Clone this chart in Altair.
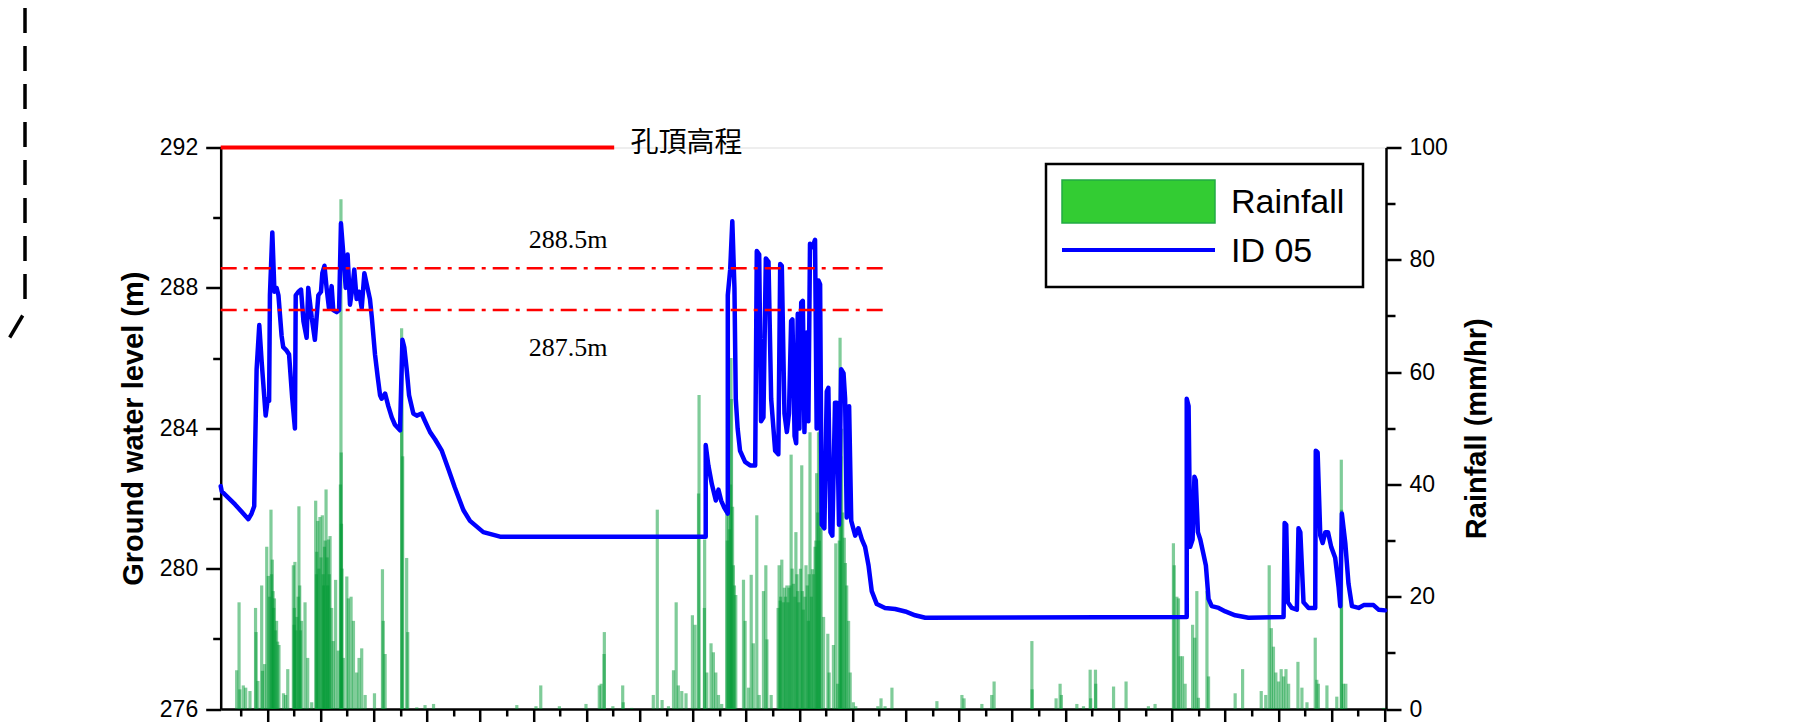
import altair as alt
import pandas as pd

# ---------------- data ----------------
# time axis: in units of one x-tick interval (axis starts at 0)
LEVEL_T = [0.00, 0.04, 0.54, 1.04, 1.16, 1.26, 1.29, 1.35, 1.45, 1.54, 1.69, 1.77, 1.82, 1.85, 1.94,
           2.02, 2.10, 2.17, 2.29, 2.35, 2.48, 2.57, 2.69, 2.79, 2.82, 2.92, 3.02, 3.11, 3.23, 3.29,
           3.42, 3.54, 3.67, 3.77, 3.82, 3.90, 3.98, 4.07, 4.17, 4.23, 4.36, 4.45, 4.52, 4.61, 4.70,
           4.77, 4.86, 4.95, 5.02, 5.11, 5.20, 5.30, 5.40, 5.49, 5.61, 5.68, 5.80, 5.90, 5.99, 6.05,
           6.18, 6.30, 6.43, 6.55, 6.74, 6.83, 6.90, 6.99, 7.08, 7.24, 7.37, 7.55, 7.68, 7.87, 8.06,
           8.31, 8.56, 8.80, 9.12, 9.37, 9.87, 10.50, 18.23, 18.23, 18.33, 18.46, 18.61, 18.71, 18.81,
           18.93, 19.06, 19.06, 19.15, 19.23, 19.31, 19.36, 19.43, 19.52, 19.71, 19.90, 20.09, 20.15,
           20.24, 20.31, 20.40, 20.49, 20.59, 20.69, 20.84, 20.96, 21.03, 21.09, 21.19, 21.28, 21.36,
           21.44, 21.49, 21.57, 21.63, 21.69, 21.75, 21.82, 21.88, 21.94, 22.03, 22.09, 22.15, 22.24,
           22.34, 22.40, 22.47, 22.53, 22.59, 22.69, 22.78, 22.84, 22.92, 22.99, 23.09, 23.16, 23.24,
           23.32, 23.41, 23.47, 23.53, 23.62, 23.70, 23.85, 23.97, 24.10, 24.22, 24.35, 24.47, 24.66,
           24.97, 25.35, 25.73, 26.10, 26.48, 36.31, 36.31, 36.38, 36.44, 36.53, 36.60, 36.65, 36.73,
           36.82, 36.94, 37.03, 37.13, 37.25, 37.51, 37.76, 38.13, 38.63, 39.95, 39.99, 40.05, 40.11,
           40.26, 40.45, 40.51, 40.58, 40.70, 40.89, 41.14, 41.16, 41.23, 41.33, 41.42, 41.52, 41.62,
           41.74, 41.89, 42.02, 42.08, 42.14, 42.27, 42.39, 42.52, 42.77, 42.96, 43.33, 43.52, 43.77]
LEVEL_V = [282.35, 282.20, 281.83, 281.41, 281.57, 281.78, 283.26, 285.68, 286.94, 285.89, 284.36, 284.84,
           284.78, 287.79, 289.58, 287.89, 288.00, 287.79, 286.63, 286.31, 286.21, 286.10, 284.84, 283.99,
           287.79, 287.89, 287.95, 287.05, 286.58, 288.00, 287.16, 286.52, 287.79, 287.89, 288.42, 288.63,
           288.00, 287.42, 288.05, 287.37, 287.31, 287.37, 289.84, 288.95, 288.00, 288.95, 287.52, 288.00,
           288.52, 287.68, 287.89, 287.42, 288.42, 288.10, 287.68, 287.16, 286.10, 285.47, 284.94, 284.84,
           284.99, 284.63, 284.31, 284.10, 283.94, 286.52, 286.31, 285.68, 284.94, 284.42, 284.36, 284.42,
           284.20, 283.89, 283.68, 283.36, 282.83, 282.31, 281.67, 281.36, 281.04, 280.91, 280.91, 283.52,
           282.94, 282.41, 281.94, 282.25, 281.94, 281.73, 281.57, 287.79, 288.52, 289.90, 288.00, 284.84,
           283.99, 283.36, 283.04, 282.94, 282.94, 289.05, 288.95, 284.20, 284.31, 288.84, 288.74, 284.84,
           283.36, 283.26, 288.68, 288.63, 284.42, 283.89, 284.42, 287.05, 287.10, 283.78, 283.57, 287.26,
           283.99, 287.58, 287.63, 283.89, 286.73, 284.20, 289.26, 289.16, 289.37, 283.99, 288.21, 288.10,
           281.25, 281.15, 285.05, 285.15, 281.04, 280.94, 284.73, 284.73, 281.25, 285.68, 285.57, 284.84,
           281.46, 284.63, 281.36, 280.94, 281.15, 280.83, 280.62, 280.09, 279.36, 278.99, 278.88, 278.85,
           278.78, 278.67, 278.60, 278.62, 284.84, 284.63, 280.62, 280.83, 282.62, 282.52, 281.04, 280.83,
           280.41, 280.09, 279.14, 278.93, 278.88, 278.78, 278.67, 278.60, 278.62, 281.30, 281.25, 279.04,
           278.88, 278.83, 281.15, 281.04, 279.04, 278.88, 278.88, 283.36, 283.31, 280.94, 280.73, 281.04,
           281.04, 280.62, 280.31, 279.46, 278.93, 281.57, 280.73, 279.57, 278.93, 278.88, 278.96, 278.96,
           278.83, 278.81]

RAIN_T = [0.60, 0.69, 0.72, 0.85, 0.94, 1.10, 1.31, 1.33, 1.40, 1.54, 1.57, 1.65, 1.73, 1.79, 1.89, 1.94,
          1.97, 2.02, 2.10, 2.19, 2.36, 2.44, 2.52, 2.73, 2.76, 2.79, 2.86, 2.94, 2.97, 3.04, 3.17, 3.27,
          3.42, 3.57, 3.60, 3.65, 3.73, 3.82, 3.85, 3.90, 3.96, 4.00, 4.05, 4.11, 4.17, 4.23, 4.32, 4.42,
          4.52, 4.53, 4.54, 4.61, 4.74, 4.80, 4.90, 4.99, 5.11, 5.20, 5.30, 5.43, 5.78, 6.08, 6.11, 6.18,
          6.80, 6.81, 6.84, 6.99, 7.03, 7.37, 7.68, 8.00,
          1.84, 1.91, 1.99, 2.06, 2.14, 2.77, 2.83, 2.91, 3.00, 3.61, 3.69, 3.77, 3.87, 3.93, 4.02, 4.08,
          4.50, 4.56,
          11.13, 11.85, 12.03, 12.73, 13.73, 14.23, 14.30, 14.41, 14.42, 14.74, 15.11, 15.13, 15.45, 16.26,
          16.41, 16.59, 16.83, 17.02, 17.12, 17.20, 17.33, 17.49, 17.73, 17.83, 17.96, 17.98, 18.18, 18.19,
          18.27, 18.43, 18.52, 18.61, 18.71, 18.83, 19.02, 19.08, 19.18, 19.20, 19.27, 19.36, 19.65, 19.71,
          19.84, 19.94, 20.02, 20.15, 20.24, 20.40, 20.49, 20.53, 20.69, 20.99, 21.03, 21.09, 21.19, 21.28,
          21.36, 21.44, 21.53, 21.62, 21.69, 21.84, 21.90, 22.00, 22.09, 22.15, 22.24, 22.34, 22.40, 22.47,
          22.53, 22.57, 22.66, 22.82, 22.87, 23.03, 23.12, 23.19, 23.28, 23.34, 23.44, 23.53, 23.60, 23.66,
          23.78, 23.87, 24.70, 24.82, 24.97, 25.23,
          20.95, 21.05, 21.15, 21.23, 21.32, 21.40, 21.48, 21.58, 21.66, 21.73, 21.79, 21.86, 21.96, 22.05,
          22.12, 22.20, 22.28, 22.37, 22.44, 22.50, 19.04, 19.12, 19.16, 19.24, 19.31, 23.25, 23.31, 23.38,
          23.48,
          26.92, 27.86, 27.94, 28.61, 28.98, 29.07, 30.49, 30.50, 31.40, 31.55, 31.60, 32.18, 32.43, 32.68,
          32.70, 32.88, 32.89, 33.56, 34.03, 34.87, 35.12, 35.81, 35.84, 35.94, 36.00, 36.06, 36.15, 36.25,
          36.53, 36.61, 36.69, 36.75, 37.07, 37.13, 38.13, 38.41, 39.11, 39.28, 39.41, 39.49, 39.57, 39.66,
          39.76, 39.86, 39.95, 40.04, 40.14, 40.49, 40.64, 40.83, 41.14, 41.20, 41.26, 41.58, 41.95, 42.12,
          42.13, 42.20, 42.29, 43.71]
RAIN_V = [6.9, 19.0, 3.5, 4.2, 3.8, 3.2, 18.0, 13.7, 5.0, 22.0, 6.8, 8.0, 28.9, 23.7, 35.5, 26.6,
          21.0, 19.7, 15.7, 11.4, 2.8, 2.5, 7.1, 25.6, 15.0, 26.2, 16.4, 36.1, 22.0, 15.7, 19.0, 9.1,
          1.2, 37.1, 24.0, 33.5, 34.2, 34.5, 24.0, 28.9, 39.1, 27.0, 30.2, 30.8, 18.0, 12.1, 23.0, 10.4,
          90.8, 45.7, 33.0, 9.1, 23.6, 19.7, 20.0, 15.7, 6.5, 9.1, 10.8, 2.5, 2.8, 24.9, 15.7, 9.8,
          67.8, 61.8, 45.0, 26.9, 13.7, 0.3, 0.7, 0.9,
          20.0, 24.0, 18.0, 14.0, 12.0, 18.0, 14.0, 20.0, 14.0, 28.0, 25.0, 27.0, 22.0, 30.0, 22.0, 24.0,
          40.0, 25.0,
          0.7, 0.5, 4.2, 0.5, 0.9, 4.2, 4.5, 9.8, 13.7, 0.5, 4.2, 1.2, 0.2, 2.5,
          35.5, 1.6, 0.5, 6.9, 19.0, 4.2, 3.2, 2.8, 16.7, 15.0, 38.4, 55.9, 18.0, 30.2,
          6.5, 11.7, 10.1, 6.5, 2.5, 0.9, 34.8, 34.8, 62.5, 55.2, 25.6, 20.3, 23.0, 15.7,
          3.8, 23.9, 11.7, 34.5, 2.5, 21.0, 25.6, 12.4, 2.5, 25.6, 19.3, 26.6, 21.6, 22.0,
          21.6, 45.3, 22.3, 31.5, 21.0, 43.4, 17.7, 25.6, 15.7, 49.3, 24.9, 28.9, 42.0, 49.3,
          60.5, 32.2, 16.4, 13.4, 6.5, 11.4, 29.5, 4.5, 66.1, 49.9, 30.5, 22.0, 15.7, 6.5,
          1.2, 0.5, 0.5, 1.9, 0.5, 3.8,
          18.0, 20.0, 19.0, 20.0, 19.0, 22.0, 25.0, 20.0, 24.0, 19.0, 25.0, 21.0, 20.0, 22.0,
          24.0, 20.0, 24.0, 30.0, 35.0, 30.0, 30.0, 32.0, 40.0, 36.0, 22.0, 30.0, 45.0, 35.0,
          26.0,
          1.4, 2.5, 1.9, 0.9, 2.5, 4.9, 12.1, 3.5, 1.9, 4.5, 2.5, 0.9, 0.5, 7.0,
          1.9, 7.0, 4.5, 4.0, 4.9, 0.5, 0.9, 29.5, 25.6, 20.0, 19.7, 9.4, 9.4, 4.5,
          15.0, 12.7, 21.0, 2.0, 21.0, 5.8, 2.8, 7.1, 3.2, 2.5, 25.6, 14.4, 11.1, 6.5,
          4.9, 7.1, 5.8, 7.1, 4.5, 8.4, 3.8, 1.2, 12.7, 5.2, 4.5, 4.2, 2.2, 44.4,
          35.5, 4.5, 4.5, 0.2]

TOP_T = [0.0, 14.79]            # 孔頂高程 line
TOP_V = [292, 292]
ALERT_T = [0.0, 25.11]          # dash-dot warning lines
ALERT_HI = 288.56
ALERT_LO = 287.37
LABEL_T = [13.06, 13.06]
LABEL_V = [289.36, 286.29]
LABEL_TXT = ["288.5m", "287.5m"]
CJK_T, CJK_V, CJK_TXT = 15.4, 292.1, "孔頂高程"

X_TICKS = [0.75 + k for k in range(44)]
Y_TICKS = list(range(276, 293, 2))
R_TICKS = list(range(0, 101, 10))

# ---------------- frames ----------------
level_df = pd.DataFrame({"t": LEVEL_T, "v": LEVEL_V, "i": range(len(LEVEL_T))})
rain_df = pd.DataFrame({"t": RAIN_T, "r": RAIN_V})
top_df = pd.DataFrame({"t": TOP_T, "v": TOP_V})
alert_df = pd.DataFrame({"t": ALERT_T * 2, "v": [ALERT_HI] * 2 + [ALERT_LO] * 2,
                         "g": ["hi", "hi", "lo", "lo"]})
lab_df = pd.DataFrame({"t": LABEL_T, "v": LABEL_V, "txt": LABEL_TXT})
cjk_df = pd.DataFrame({"t": [CJK_T], "v": [CJK_V], "txt": [CJK_TXT]})
one = pd.DataFrame({"k": [0]})

W, H = 1165.3, 561.5
FONT = "Liberation Sans"

xscale = alt.Scale(domain=[0, 43.8], nice=False, zero=False)
xaxis = alt.Axis(values=X_TICKS, labels=False, title=None, grid=False,
                 domainColor="black", domainWidth=2.5, tickColor="black", tickWidth=2.5,
                 tickSize={"condition": {"test": "round(datum.value - 0.75) % 2 == 1", "value": 13},
                           "value": 7})
X = alt.X("t:Q", scale=xscale, axis=xaxis)

yscale = alt.Scale(domain=[276, 292], nice=False, zero=False)
yaxis = alt.Axis(values=Y_TICKS, orient="left", grid=False,
                 labelExpr="datum.value % 4 == 0 ? datum.label : ''",
                 tickSize={"condition": {"test": "datum.value % 4 == 0", "value": 15}, "value": 8},
                 domainColor="black", domainWidth=2.5, tickColor="black", tickWidth=2.5,
                 labelFont=FONT, labelFontSize=23, labelColor="black", labelPadding=8,
                 title="Ground water level (m)", titleFont=FONT, titleFontSize=29,
                 titleFontWeight="bold", titleColor="black", titleAngle=270,
                 titleX=-87, titleY=H / 2, titleAlign="center", titleBaseline="middle")
Y = alt.Y("v:Q", scale=yscale, axis=yaxis)

rscale = alt.Scale(domain=[0, 100], nice=False, zero=True)
raxis = alt.Axis(values=R_TICKS, orient="right", grid=False,
                 labelExpr="datum.value % 20 == 0 ? datum.label : ''",
                 tickSize={"condition": {"test": "datum.value % 20 == 0", "value": 15}, "value": 9},
                 domainColor="black", domainWidth=2.5, tickColor="black", tickWidth=2.5,
                 labelFont=FONT, labelFontSize=23, labelColor="black", labelPadding=8,
                 title="Rainfall (mm/hr)", titleFont=FONT, titleFontSize=29,
                 titleFontWeight="bold", titleColor="black", titleAngle=270,
                 titleX=90, titleY=H / 2, titleAlign="center", titleBaseline="middle")

rain = alt.Chart(rain_df).mark_rule(strokeWidth=3.2, color="#009933", opacity=0.5).encode(
    x=X, y=alt.Y("r:Q", scale=rscale, axis=raxis), y2=alt.datum(0))

line = alt.Chart(level_df).mark_line(color="#0000FF", strokeWidth=4.5, strokeJoin="round",
                                     strokeCap="round").encode(
    x=X, y=Y, order="i:Q")

top_line = alt.Chart(top_df).mark_line(color="#FF0000", strokeWidth=4).encode(x=X, y=Y)

alerts = alt.Chart(alert_df).mark_line(color="#FF0000", strokeWidth=2.5,
                                       strokeDash=[16, 7, 4, 7]).encode(
    x=X, y=Y, detail="g:N")

labels = alt.Chart(lab_df).mark_text(font="Liberation Serif", fontSize=26, color="black",
                                     align="center", baseline="middle").encode(
    x=X, y=Y, text="txt:N")

cjk = alt.Chart(cjk_df).mark_text(font="Noto Sans CJK TC", fontSize=28, color="black",
                                  align="left", baseline="middle").encode(
    x=X, y=Y, text="txt:N")

# legend drawn by hand
leg_box = alt.Chart(one).mark_rect(fill="white", stroke="black", strokeWidth=2.5).encode(
    x=alt.value(825.3), x2=alt.value(1142.3), y=alt.value(16.5), y2=alt.value(139.5))
leg_sw = alt.Chart(one).mark_rect(fill="#33CC33", stroke="#22AA44", strokeWidth=1.5).encode(
    x=alt.value(841.3), x2=alt.value(994.3), y=alt.value(32.5), y2=alt.value(75.5))
leg_ln = alt.Chart(one).mark_rule(color="#0000FF", strokeWidth=4).encode(
    x=alt.value(841.3), x2=alt.value(994.3), y=alt.value(102.5))
leg_t1 = alt.Chart(one).mark_text(text="Rainfall", font=FONT, fontSize=34, color="black",
                                  align="left", baseline="alphabetic").encode(
    x=alt.value(1010.3), y=alt.value(65))
leg_t2 = alt.Chart(one).mark_text(text="ID 05", font=FONT, fontSize=34, color="black",
                                  align="left", baseline="alphabetic").encode(
    x=alt.value(1010.3), y=alt.value(114.5))

# cropped-figure remnant: black dashed outline on the far left
dash_v = alt.Chart(one).mark_rule(color="black", strokeWidth=3.5, strokeDash=[25, 13]).encode(
    x=alt.value(-195.7), y=alt.value(-139.5), y2=alt.value(152))
dash_c = alt.Chart(one).mark_rule(color="black", strokeWidth=3.5).encode(
    x=alt.value(-198), x2=alt.value(-211), y=alt.value(168), y2=alt.value(190))

left = alt.layer(line, top_line, alerts, labels, cjk, leg_box, leg_sw, leg_ln, leg_t1, leg_t2,
                 dash_v, dash_c)

chart = alt.layer(rain, left).resolve_scale(y="independent").properties(
    width=W, height=H, autosize="none",
    padding={"left": 212.7, "top": 139.5, "right": 405, "bottom": 13},
).configure_view(stroke=None).configure(background="white")

chart.save("out.html", embed_options={"renderer": "svg", "actions": False})
